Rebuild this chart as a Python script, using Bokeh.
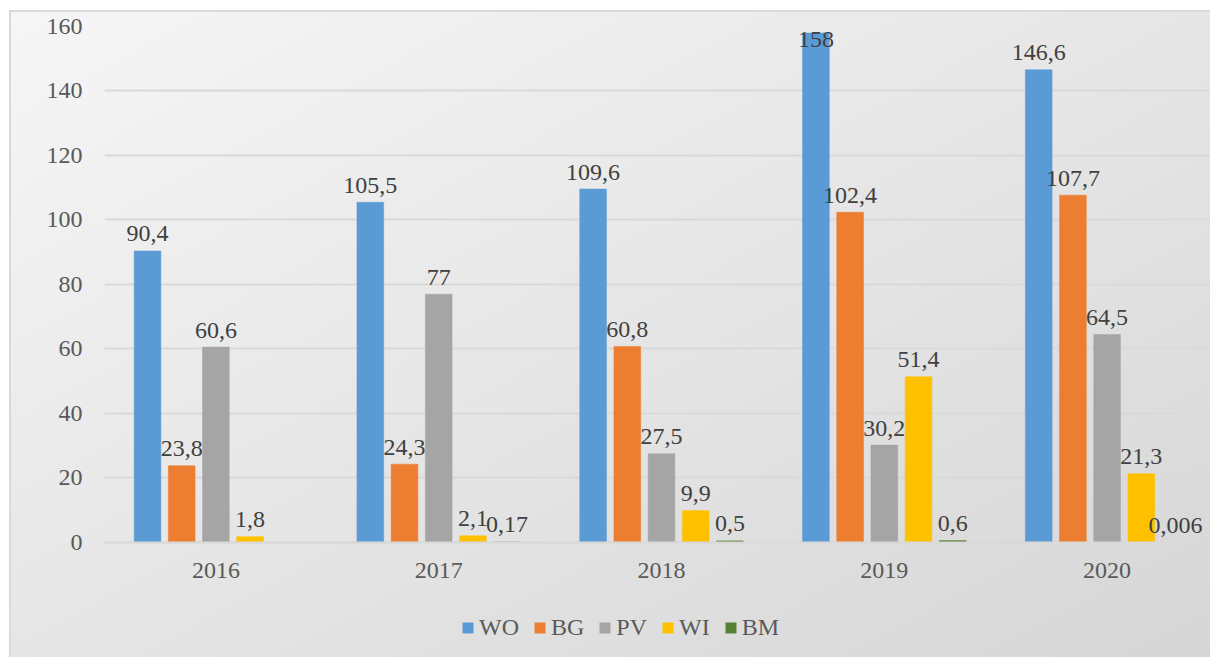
from bokeh.plotting import figure
from bokeh.models import ColumnDataSource, FixedTicker, Legend, LegendItem, Range1d
from bokeh.core.properties import value
from bokeh.embed import file_html
from bokeh.resources import INLINE
import math

years = ["2016", "2017", "2018", "2019", "2020"]
series_names = ["WO", "BG", "PV", "WI", "BM"]
WO = [90.4, 105.5, 109.6, 158, 146.6]
BG = [23.8, 24.3, 60.8, 102.4, 107.7]
PV = [60.6, 77, 27.5, 30.2, 64.5]
WI = [1.8, 2.1, 9.9, 51.4, 21.3]
BM = [float("nan"), 0.17, 0.5, 0.6, 0.006]
colors = ["#5b9bd5", "#ed7d31", "#a5a5a5", "#ffc000", "#548235"]
y_ticks = [0, 20, 40, 60, 80, 100, 120, 140, 160]

FONT = value("Liberation Serif")

p = figure(width=1210, height=657, output_backend="svg", toolbar_location=None,
           x_range=Range1d(-0.5, 4.464), y_range=Range1d(-35.66, 160),
           min_border_left=104, min_border_right=0, min_border_top=26, min_border_bottom=0)
p.styles = {
    "background": ("linear-gradient(#d9d9d9, #d9d9d9) 9px 10px / 2px 100% no-repeat, "
                   "linear-gradient(#d9d9d9, #d9d9d9) 9px 10px / 100% 2px no-repeat, "
                   "linear-gradient(to bottom right, #f6f6f6, #d6d6d6) 9px 10px / "
                   "calc(100% - 9px) calc(100% - 10px) no-repeat, #ffffff"),
}
p.border_fill_color = None
p.background_fill_color = None
p.outline_line_color = None

p.xgrid.grid_line_color = None
p.ygrid.grid_line_color = "#d9d9d9"
p.ygrid.grid_line_width = 2
p.yaxis.ticker = FixedTicker(ticks=y_ticks)
p.ygrid.ticker = FixedTicker(ticks=y_ticks)
p.xaxis.ticker = FixedTicker(ticks=list(range(len(years))))
p.xaxis.major_label_overrides = {i: y for i, y in enumerate(years)}
p.xaxis.fixed_location = 0

for ax in (p.xaxis, p.yaxis):
    ax.major_tick_line_color = None
    ax.minor_tick_line_color = None
    ax.major_label_text_font = "Liberation Serif"
    ax.major_label_text_font_size = "24px"
    ax.major_label_text_color = "#595959"
p.yaxis.axis_line_color = None
p.yaxis.major_label_standoff = 16
p.xaxis.axis_line_color = "#d9d9d9"
p.xaxis.axis_line_width = 2
p.xaxis.major_label_standoff = 15

all_series = [WO, BG, PV, WI, BM]
slot = 0.1535
bar_w = 0.12
items = []
for k, (name, vals, col) in enumerate(zip(series_names, all_series, colors)):
    off = (k - 2) * slot
    xs = [i + off for i in range(len(years))]
    src = ColumnDataSource(dict(x=xs, top=vals))
    r = p.vbar(x="x", top="top", width=bar_w, bottom=0, source=src,
               fill_color=col, line_color=col, line_width=0.5)
    items.append(LegendItem(label=name, renderers=[r]))
    lx, ly, lt = [], [], []
    for x, v in zip(xs, vals):
        if v is None or (isinstance(v, float) and math.isnan(v)):
            continue
        lx.append(x)
        ly.append(min(v, 150.7))
        lt.append(f"{v:g}".replace(".", ","))
    p.text(x=lx, y=ly, text=lt, text_align="center", text_baseline="alphabetic",
           y_offset=-17, text_font=FONT, text_font_size="24px", text_color="#404040")

legend = Legend(items=items, orientation="horizontal", location=(357, 16),
                glyph_width=13, glyph_height=13, label_standoff=5, spacing=14,
                padding=0, margin=0, border_line_color=None, background_fill_color=None,
                label_text_font="Liberation Serif", label_text_font_size="24px",
                label_text_color="#595959", label_height=28)
p.add_layout(legend, "center")

open("out.html", "w").write(file_html(p, INLINE))
